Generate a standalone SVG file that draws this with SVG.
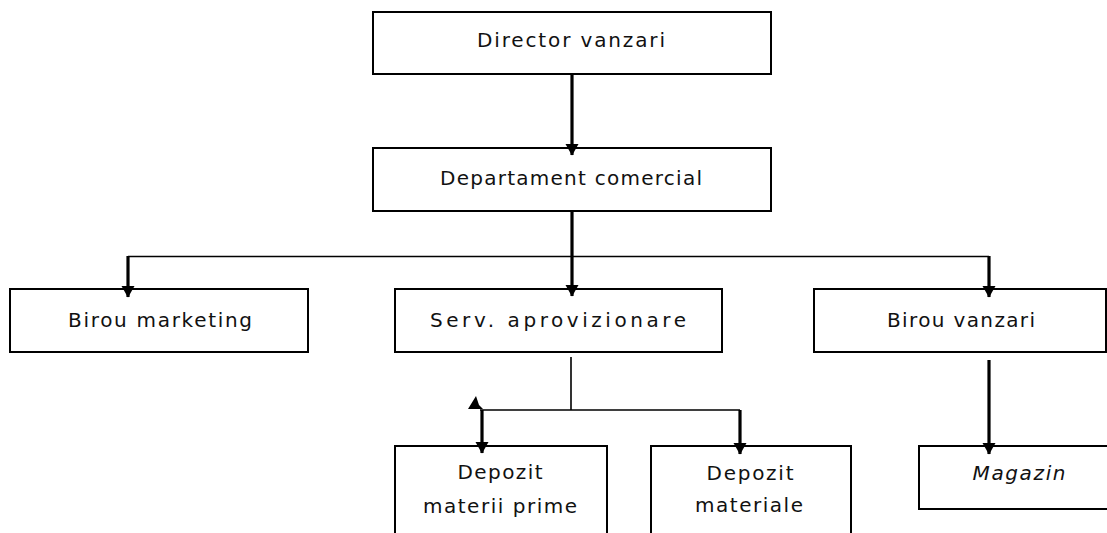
<svg xmlns="http://www.w3.org/2000/svg" width="1107" height="533" viewBox="0 0 1107 533">
<defs>
<style>
.box{fill:#fff;stroke:#000;stroke-width:2}
.t{font-family:"DejaVu Sans","Liberation Sans",sans-serif;font-size:20px;fill:#111;text-anchor:middle}
.thin{fill:none;stroke:#000;stroke-width:1.6}
.thick{fill:none;stroke:#000;stroke-width:3.2;marker-end:url(#ah)}
</style>
<marker id="ah" markerUnits="userSpaceOnUse" markerWidth="12" markerHeight="14" refX="11" refY="7" orient="auto" viewBox="0 0 12 14">
<path d="M0,0.5 L11.5,7 L0,13.5 z" fill="#000"/>
</marker>
</defs>
<rect width="1107" height="533" fill="#fff"/>
<g id="director">
<rect class="box" x="373" y="12" width="398" height="62"/>
<text class="t" x="571" y="47" textLength="188" lengthAdjust="spacing">Director vanzari</text>
</g>
<g id="departament">
<rect class="box" x="373" y="148" width="398" height="63"/>
<text class="t" x="571" y="185" textLength="262" lengthAdjust="spacing">Departament comercial</text>
</g>
<g id="birou-marketing">
<rect class="box" x="10" y="289" width="298" height="63"/>
<text class="t" x="160" y="327" textLength="184" lengthAdjust="spacing">Birou marketing</text>
</g>
<g id="serv-aprovizionare">
<rect class="box" x="395" y="289" width="327" height="63"/>
<text class="t" x="558" y="327" textLength="256" lengthAdjust="spacing">Serv. aprovizionare</text>
</g>
<g id="birou-vanzari">
<rect class="box" x="814" y="289" width="292" height="63"/>
<text class="t" x="961" y="327" textLength="148" lengthAdjust="spacing">Birou vanzari</text>
</g>
<g id="depozit-materii-prime">
<rect class="box" x="395" y="446" width="212" height="100"/>
<text class="t" x="500" y="479" textLength="85" lengthAdjust="spacing">Depozit</text>
<text class="t" x="500" y="513" textLength="154" lengthAdjust="spacing">materii prime</text>
</g>
<g id="depozit-materiale">
<rect class="box" x="651" y="446" width="200" height="100"/>
<text class="t" x="750" y="480" textLength="87" lengthAdjust="spacing">Depozit</text>
<text class="t" x="749" y="512" textLength="108" lengthAdjust="spacing">materiale</text>
</g>
<g id="magazin">
<rect class="box" x="919" y="446" width="205" height="63"/>
<text class="t" x="1019" y="480" textLength="93" lengthAdjust="spacing" font-style="italic">Magazin</text>
</g>
<g id="connectors">
<path class="thick" d="M572,74 V155"/>
<path class="thick" d="M572,211 V296"/>
<path class="thin" d="M128,256.5 H989"/>
<path class="thick" d="M128,256 V297"/>
<path class="thick" d="M989,256 V297"/>
<path class="thin" d="M571,357 V410 M480,410 H740"/>
<path class="thick" d="M482,410 V453"/>
<path class="thick" d="M740,410 V454"/>
<path class="thick" d="M989,360 V454"/>
<polygon points="476,396 468,409 483,409 479,405" fill="#000"/>
</g>
</svg>
